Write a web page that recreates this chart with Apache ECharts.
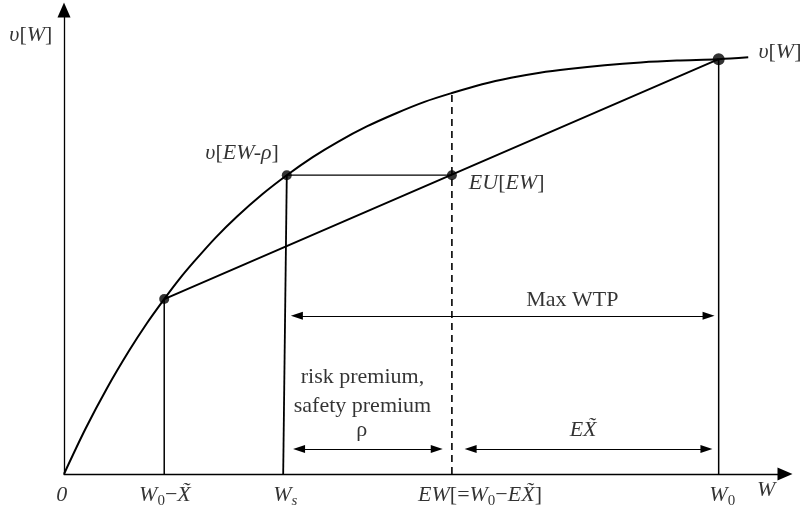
<!DOCTYPE html>
<html>
<head>
<meta charset="utf-8">
<script src="https://cdn.jsdelivr.net/npm/echarts@6/dist/echarts.min.js"></script>
<style>
  html, body { margin: 0; padding: 0; background: #fff; }
  #chart { width: 809px; height: 513px; }
</style>
</head>
<body>
<div id="chart"></div>
<script>
// utility curve v[W] (wealth on x, utility on y, both 0..100)
const curveW = [0, 3, 6, 9, 11.5, 13.9, 16, 18, 21, 24, 27.5, 30.9, 34.5, 38, 42, 46, 50, 53.8,
  58, 62, 66, 70, 75, 80, 85, 90.8, 94.9];
const curveU = [0, 9.8, 18.6, 26.5, 32.5, 37.7, 42.0, 45.7, 50.9, 55.5, 60.3, 64.4, 68.3, 71.6, 74.9, 77.7, 80.2, 82.1,
  84.0, 85.4, 86.5, 87.3, 88.1, 88.7, 89.1, 89.4, 89.8];

// key points: W0-X~, Ws, EW, W0
const dotW = [13.9, 30.9, 53.8, 90.8];
const dotU = [37.7, 64.4, 64.4, 89.4];
const wsBase = 30.4;      // foot of the Ws line
const ewTop = 82.1;       // dashed line ends on the curve

// double arrows: Max WTP, rho, E X~ (arrowhead centres)
const arrowFrom = [32.3, 32.6, 56.4];
const arrowTo = [89.4, 51.7, 89.1];
const arrowU = [34.1, 5.4, 5.4];

// annotations
const noteText = [
  '{i|υ}{n|[}{i|W}{n|]}',
  '{i|υ}{n|[}{i|W}{n|]}',
  '{i|υ}{n|[}{i|EW-ρ}{n|]}',
  '{i|EU}{n|[}{i|EW}{n|]}',
  '{n|Max WTP}',
  '{n|risk premium,}\n{n|safety premium}',
  '{n|ρ}',
  '{i|EX̃}',
  '{i|0}',
  '{i|W}{s|0}{n|−}{i|X̃}',
  '{i|W}{si|s}',
  '{i|EW}{n|[=}{i|W}{s|0}{n|−}{i|EX̃}{n|]}',
  '{i|W}{s|0}',
  '{i|W}',
];
const noteW = [-4.6, 99.3, 24.7, 61.4, 70.5, 41.4, 41.3, 72.0, -0.3, 14.0, 30.7, 57.7, 91.3, 97.4];
const noteU = [94.6, 90.9, 69.2, 62.7, 37.5, 17.7, 9.5, 9.5, -4.5, -4.5, -4.5, -4.5, -4.5, -3.5];

const ink = '#000';
const serif = '"Liberation Serif", "DejaVu Serif", serif';

const rich = {
  n: { fontFamily: serif, fontSize: 22, color: ink, lineHeight: 29 },
  i: { fontFamily: serif, fontSize: 22, fontStyle: 'italic', color: ink },
  s: { fontFamily: serif, fontSize: 15, color: ink, padding: [12, 0, 0, 0] },
  si: { fontFamily: serif, fontSize: 15, fontStyle: 'italic', color: ink, padding: [12, 0, 0, 0] },
};

function seg(points, style) {
  return {
    type: 'line',
    data: points,
    showSymbol: false,
    silent: true,
    lineStyle: Object.assign({ color: ink, width: 1.5 }, style || {}),
  };
}

const axisBase = {
  type: 'value',
  min: 0,
  max: 100,
  axisLine: {
    show: true,
    onZero: false,
    symbol: ['none', 'triangle'],
    symbolSize: [13, 15],
    lineStyle: { color: ink, width: 1.3 },
  },
  axisTick: { show: false },
  axisLabel: { show: false },
  splitLine: { show: false },
};

const chart = echarts.init(document.getElementById('chart'));
chart.setOption({
  animation: false,
  backgroundColor: '#fff',
  grid: { left: 64, right: 24, top: 10, bottom: 39 },
  xAxis: axisBase,
  yAxis: axisBase,
  series: [
    Object.assign(seg(curveW.map((w, i) => [w, curveU[i]]), { width: 2 }), { smooth: 0.3 }),
    seg([[dotW[0], dotU[0]], [dotW[3], dotU[3]]], { width: 2 }),
    seg([[dotW[1], dotU[1]], [dotW[2], dotU[2]]], { width: 1.2 }),
    seg([[dotW[0], 0], [dotW[0], dotU[0]]]),
    seg([[wsBase, 0], [dotW[1], dotU[1]]], { width: 1.8 }),
    seg([[dotW[3], 0], [dotW[3], dotU[3]]]),
    seg([[dotW[2], 0], [dotW[2], ewTop]], { type: [7, 5], width: 1.6 }),
    {
      type: 'scatter',
      silent: true,
      symbolSize: (v, p) => (p.dataIndex === 3 ? 12 : 10),
      itemStyle: { color: ink },
      data: dotW.map((w, i) => [w, dotU[i]]),
    },
    {
      type: 'line',
      data: [],
      silent: true,
      markLine: {
        silent: true,
        animation: false,
        symbol: ['triangle', 'triangle'],
        symbolSize: [8, 12],
        label: { show: false },
        lineStyle: { color: ink, width: 1.1, type: 'solid' },
        emphasis: { disabled: true },
        data: arrowU.map((u, i) => [{ coord: [arrowFrom[i], u] }, { coord: [arrowTo[i], u] }]),
      },
    },
    {
      type: 'scatter',
      silent: true,
      clip: false,
      symbolSize: 1,
      itemStyle: { color: 'rgba(0,0,0,0)' },
      label: {
        show: true,
        position: 'inside',
        formatter: (p) => noteText[p.dataIndex],
        rich: rich,
      },
      data: noteW.map((w, i) => [w, noteU[i]]),
    },
  ],
});
</script>
</body>
</html>
